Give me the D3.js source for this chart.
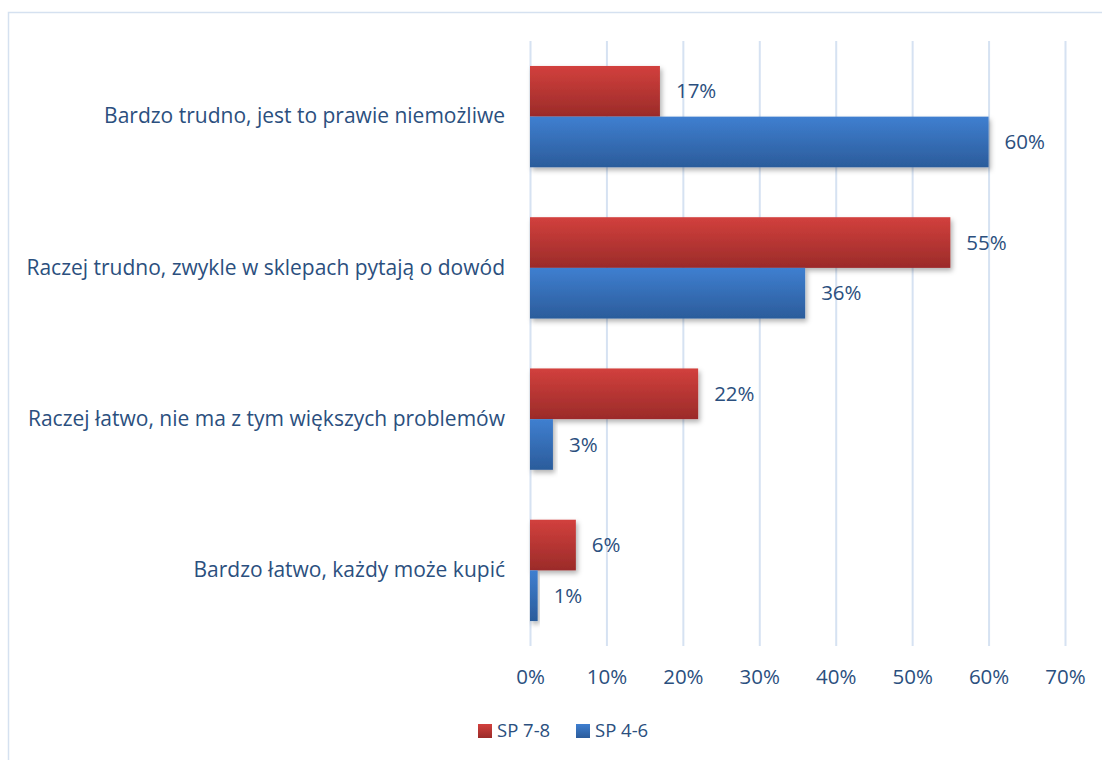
<!DOCTYPE html>
<html><head><meta charset="utf-8">
<script src="https://cdn.jsdelivr.net/npm/d3@7"></script>
<style>
html,body{margin:0;padding:0;background:#fff;}
svg{display:block;}
text{font-family:"Open Sans","Noto Sans",sans-serif;fill:#2B4F7E;}
</style></head><body>
<svg id="c" width="1102" height="760"></svg>
<script>
const categories = [
  "Bardzo trudno, jest to prawie niemożliwe",
  "Raczej trudno, zwykle w sklepach pytają o dowód",
  "Raczej łatwo, nie ma z tym większych problemów",
  "Bardzo łatwo, każdy może kupić"
];
const seriesNames = ["SP 7-8", "SP 4-6"];
const sp78 = [17, 55, 22, 6];
const sp46 = [60, 36, 3, 1];
const xTicks = [0, 10, 20, 30, 40, 50, 60, 70];

const FONT = "'Open Sans','Noto Sans',sans-serif";
const FS = 20.5, FSC = 21, FSL = 18.5;
const svg = d3.select("#c");
const W = 1102, H = 760;
const margin = {left: 530, right: 37, top: 41, bottom: 114};

const defs = svg.append("defs");
function grad(id, c1, c2){
  const g = defs.append("linearGradient").attr("id", id).attr("x1",0).attr("y1",0).attr("x2",0).attr("y2",1);
  g.append("stop").attr("offset","0%").attr("stop-color",c1);
  g.append("stop").attr("offset","100%").attr("stop-color",c2);
}
grad("gRed", "#D2403D", "#9B2B29");
grad("gBlue", "#3F7FD0", "#2B5C9B");
const f = defs.append("filter").attr("id","sh").attr("x","-10%").attr("y","-10%").attr("width","130%").attr("height","140%");
f.append("feDropShadow").attr("dx",2).attr("dy",3).attr("stdDeviation",2.5).attr("flood-color","#000").attr("flood-opacity",0.3);

// border
svg.append("rect").attr("x",8.5).attr("y",12.5).attr("width",1110).attr("height",800)
  .attr("fill","none").attr("stroke","#D5E1F0").attr("stroke-width",1.5);

const x = d3.scaleLinear().domain([0,70]).range([margin.left, W - margin.right]);
const y = d3.scaleBand().domain(categories).range([margin.top, H - margin.bottom]).paddingInner(0.33).paddingOuter(0.165);
const sub = d3.scaleBand().domain(seriesNames).range([0, y.bandwidth()]);

// grid
svg.append("g").selectAll("line").data(xTicks).join("line")
  .attr("x1", d=>x(d)+0.5).attr("x2", d=>x(d)+0.5)
  .attr("y1", margin.top).attr("y2", H - margin.bottom)
  .attr("stroke","#D6E2F2").attr("stroke-width",2);

// x axis labels
const xAxis = d3.axisBottom(x).tickValues(xTicks).tickFormat(d=>d+"%").tickSize(0).tickPadding(0);
const gx = svg.append("g").attr("transform",`translate(0,${H - margin.bottom + 38})`).call(xAxis);
gx.select(".domain").remove();
gx.selectAll("text").attr("font-size",FS).attr("fill","#2B4F7E").attr("font-family",FONT).attr("dy",0);

// y axis labels
const yAxis = d3.axisLeft(y).tickSize(0).tickPadding(25);
const gy = svg.append("g").attr("transform",`translate(${margin.left},0)`).call(yAxis);
gy.select(".domain").remove();
gy.selectAll("text").attr("font-size",FSC).attr("fill","#2B4F7E").attr("font-family",FONT);

const data = [];
categories.forEach((c,i)=>{
  data.push({c, s: seriesNames[0], v: sp78[i], fill:"url(#gRed)"});
  data.push({c, s: seriesNames[1], v: sp46[i], fill:"url(#gBlue)"});
});

svg.append("g").selectAll("rect").data(data).join("rect")
  .attr("x", x(0)).attr("y", d=>y(d.c)+sub(d.s))
  .attr("width", d=>x(d.v)-x(0)).attr("height", sub.bandwidth())
  .attr("fill", d=>d.fill).attr("filter","url(#sh)");

svg.append("g").selectAll("text").data(data).join("text")
  .attr("x", d=>x(d.v)+16).attr("y", d=>y(d.c)+sub(d.s)+sub.bandwidth()/2)
  .attr("dy","0.35em").attr("font-size",FS).text(d=>d.v+"%");

// legend
const leg = svg.append("g");
const legItems = [{n:seriesNames[0], f:"url(#gRed)", x:478},{n:seriesNames[1], f:"url(#gBlue)", x:576}];
leg.selectAll("rect").data(legItems).join("rect")
  .attr("x", d=>d.x).attr("y",724).attr("width",14).attr("height",14).attr("fill", d=>d.f);
leg.selectAll("text").data(legItems).join("text")
  .attr("x", d=>d.x+19).attr("y",731).attr("dy","0.35em").attr("font-size",FSL).text(d=>d.n);
</script>
</body></html>
